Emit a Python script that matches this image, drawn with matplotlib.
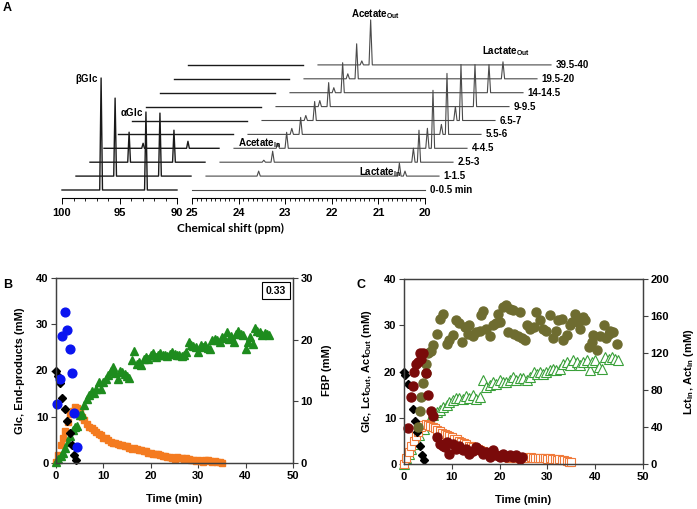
import matplotlib
matplotlib.use("Agg")
import matplotlib.pyplot as plt
import matplotlib.transforms as mtrans
from matplotlib.ticker import MultipleLocator

plt.rcParams['font.family'] = ['Liberation Sans', 'DejaVu Sans']
plt.rcParams['font.weight'] = 'bold'
plt.rcParams['axes.labelweight'] = 'bold'
plt.rcParams['font.size'] = 8
plt.rcParams['mathtext.fontset'] = 'custom'
plt.rcParams['mathtext.rm'] = 'Liberation Sans:bold'
plt.rcParams['mathtext.bf'] = 'Liberation Sans:bold'
plt.rcParams['mathtext.it'] = 'Liberation Sans:bold'

# ---------------- panel A: stacked 13C spectra (peak heights in px) --------
trace_labels = ['0-0.5 min', '1-1.5', '2.5-3', '4-4.5', '5.5-6', '6.5-7',
                '9-9.5', '14-14.5', '19.5-20', '39.5-40']
glc_ppm = [96.6, 92.7]                       # beta, alpha
beta_glc = [112, 78, 30, 5, 0, 0, 0, 0, 0, 0]
alpha_glc = [78, 63, 32, 7, 0, 0, 0, 0, 0, 0]
ace_ppm = [24.06, 23.87]                     # side, main
ace_side = [0, 0, 2, 5, 6, 5, 6, 5, 5, 4]
ace_main = [0, 5, 11, 16, 17, 19, 24, 30, 35, 45]
lac_ppm = [20.85, 20.73]                     # In, Out
lac_in = [0, 13, 14, 20, 10, 14, 0, 0, 0, 0]
lac_out = [0, 5, 32, 58, 61, 56, 42, 28, 17, 0]

# ---------------- panel B ----------------
glc_b_t = [0.0, 0.5, 0.9, 1.3, 1.8, 2.4, 2.9, 3.3, 3.8, 4.3]
glc_b = [20.0, 18.8, 17.2, 14.0, 11.7, 9.0, 6.4, 3.9, 1.8, 0.7]
fbp_t = [0.3, 0.9, 1.3, 1.8, 2.4, 2.9, 3.4, 3.9, 4.4]
fbp = [9.5, 13.7, 20.6, 24.5, 21.5, 18.5, 14.6, 8.1, 2.6]
lac_b_t = [0.0, 0.5, 1.0, 1.5, 2.0, 2.5, 3.0, 3.5, 4.0, 4.5, 5.0, 5.5, 6.0, 6.5,
           7.0, 7.5, 8.0, 8.5, 9.0, 9.5, 10.0, 10.5, 11.0, 11.5, 12.0, 12.5,
           13.0, 13.5, 14.0, 14.5, 15.0, 15.5, 16.0, 16.5, 17.0, 17.5, 18.0,
           18.5, 19.0, 19.5, 20.0, 20.5, 21.0, 21.5, 22.0, 22.5, 23.0, 23.5,
           24.0, 24.5, 25.0, 25.5, 26.0, 26.5, 27.0, 27.5, 28.0, 28.5, 29.0,
           29.5, 30.0, 30.5, 31.0, 31.5, 32.0, 32.5, 33.0, 33.5, 34.0, 34.5, 35.0]
lac_b = [0.2, 1.8, 3.8, 5.5, 7.0, 8.8, 10.5, 11.2, 12.2, 12.0, 11.2, 10.0, 9.3,
         8.5, 7.8, 7.5, 7.2, 6.8, 6.3, 6.0, 5.4, 5.5, 5.0, 4.6, 4.4, 4.3, 4.1,
         4.0, 3.9, 3.7, 3.6, 3.2, 3.1, 3.2, 3.0, 2.9, 2.8, 2.5, 2.6, 2.2, 2.1,
         2.0, 2.0, 1.9, 1.7, 1.6, 1.5, 1.3, 1.2, 1.0, 0.9, 1.2, 1.0, 1.1, 0.8,
         1.0, 0.9, 0.6, 0.7, 0.5, 0.6, 0.4, 0.3, 0.6, 0.7, 0.5, 0.3, 0.4, 0.2,
         0.3, 0.1]
ace_b_t = [0.0, 0.5, 1.0, 1.5, 2.0, 2.5, 3.0, 3.5, 4.0, 4.5, 5.0, 5.5, 6.0, 6.5,
           7.0, 7.5, 8.0, 8.5, 9.0, 9.5, 10.0, 10.5, 11.0, 11.5, 12.0, 12.5,
           13.0, 13.5, 14.0, 14.5, 15.0, 15.5, 16.0, 16.5, 17.0, 17.5, 18.0,
           18.5, 19.0, 19.5, 20.0, 20.5, 21.0, 21.5, 22.0, 22.5, 23.0, 23.5,
           24.0, 24.5, 25.0, 25.5, 26.0, 26.5, 27.0, 27.5, 28.0, 28.5, 29.0,
           29.5, 30.0, 30.5, 31.0, 31.5, 32.0, 32.5, 33.0, 33.5, 34.0, 34.5,
           35.0, 35.5, 36.0, 36.5, 37.0, 37.5, 38.0, 38.5, 39.0, 39.5, 40.0,
           40.5, 41.0, 41.5, 42.0, 42.5, 43.0, 43.5, 44.0, 44.5, 45.0]
ace_b = [0.2, 0.8, 1.5, 2.1, 3.2, 4.6, 5.9, 7.1, 7.8, 8.0, 10.3, 10.6, 12.5,
         13.8, 14.6, 15.5, 15.2, 15.9, 17.5, 16.1, 17.6, 18.2, 19.0, 20.0, 20.8,
         19.5, 18.2, 20.0, 19.7, 19.3, 18.8, 18.4, 22.2, 24.2, 21.5, 21.8, 21.1,
         22.4, 22.9, 22.5, 23.3, 23.8, 23.0, 23.3, 23.8, 23.3, 23.4, 23.1, 23.6,
         24.0, 23.6, 23.4, 23.3, 23.1, 23.3, 24.0, 26.2, 25.5, 25.3, 25.1, 24.0,
         25.6, 25.1, 25.5, 24.8, 24.6, 26.5, 26.9, 26.6, 26.2, 27.3, 27.0, 28.3,
         26.9, 27.5, 26.2, 28.0, 28.5, 27.8, 27.6, 24.7, 26.2, 27.3, 25.8, 29.1,
         28.6, 28.3, 27.6, 28.2, 27.9, 27.6]

# ---------------- panel C ----------------
glc_c_t = [0.0, 0.3, 0.9, 1.4, 1.8, 2.2, 2.8, 3.3, 3.8, 4.2]
glc_c = [19.9, 19.3, 17.4, 14.5, 11.8, 9.2, 6.9, 4.0, 1.9, 0.8]
lct_in_t = [0.8, 1.4, 1.8, 2.1, 2.6, 2.9, 3.3, 3.6, 4.0, 4.7, 5.0, 5.7, 6.1, 6.8,
            7.5, 8.2, 8.6, 8.9, 9.5, 10.2, 10.9, 11.6, 12.3, 13.0, 13.7, 14.4,
            15.1, 15.8, 16.5, 17.2, 17.9, 18.6, 19.3, 20.0, 20.7, 21.4, 22.1,
            22.8, 23.5, 24.2, 24.7]
lct_in = [39, 72, 84, 100, 108, 110, 120, 114, 120, 98, 75, 57, 52, 29, 22, 20,
          18, 24, 11, 22, 16, 20, 15, 16, 11, 14, 18, 15, 11, 13, 8, 15, 10, 8,
          11, 8, 10, 8, 10, 5, 8]
act_in_t = [2.9, 3.3, 3.6, 4.0, 4.5, 4.7, 5.0, 5.7, 6.1, 6.8, 7.5, 8.2, 8.9, 9.5,
            10.2, 10.9, 11.6, 12.1, 12.7, 13.4, 13.7, 14.4, 15.1, 15.8, 16.1,
            16.5, 17.2, 17.9, 18.6, 19.3, 19.7, 20.0, 20.7, 21.4, 21.7, 22.1,
            22.8, 23.1, 23.8, 24.3, 24.6, 25.3, 25.7, 26.4, 27.1, 27.6, 28.4,
            29.1, 29.8, 30.5, 31.2, 31.9, 32.3, 33.0, 33.3, 34.0, 34.7, 35.1,
            35.8, 36.3, 36.8, 37.5, 37.9, 38.6, 39.3, 39.6, 40.3, 41.0, 41.9,
            42.3, 42.8, 43.1, 43.7, 44.5]
act_in = [40, 57, 72, 88, 98, 108, 120, 122, 129, 141, 157, 162, 130, 134, 139,
          156, 152, 132, 148, 141, 150, 138, 143, 144, 161, 165, 146, 138, 150,
          152, 162, 154, 170, 172, 143, 168, 166, 141, 138, 164, 136, 134, 150,
          146, 148, 164, 156, 146, 144, 161, 136, 144, 156, 157, 134, 139, 150,
          154, 162, 154, 146, 159, 156, 126, 132, 139, 123, 138, 150, 136, 141,
          144, 143, 130]
lct_out_t = lac_b_t
lct_out = [0.0, 1.2, 2.6, 4.0, 5.0, 6.1, 7.0, 7.9, 8.4, 8.6, 8.4, 8.3, 8.0, 7.8,
           7.4, 7.1, 6.8, 6.4, 6.2, 6.0, 5.8, 5.5, 5.3, 5.0, 4.8, 4.5, 4.3, 4.0,
           3.8, 3.6, 3.4, 3.2, 3.1, 2.9, 2.6, 2.3, 2.1, 2.0, 1.9, 1.9, 1.8, 1.7,
           1.5, 1.5, 1.4, 1.4, 1.3, 1.3, 1.3, 1.2, 1.3, 1.5, 1.4, 1.5, 1.3, 1.4,
           1.2, 1.3, 1.4, 1.2, 1.1, 1.2, 1.0, 1.1, 0.9, 1.0, 0.9, 0.8, 0.6, 0.5, 0.4]
act_out_t = [0.0, 0.5, 1.0, 1.5, 2.1, 2.6, 3.1, 3.6, 4.2, 4.7, 5.4, 6.1, 6.8, 7.5,
             8.2, 8.9, 9.5, 10.2, 10.9, 11.6, 12.3, 13.0, 13.7, 14.4, 15.1, 15.8,
             16.5, 17.2, 17.9, 18.6, 19.3, 20.0, 20.7, 21.4, 22.1, 22.8, 23.5,
             24.2, 24.9, 25.7, 26.4, 27.1, 27.8, 28.4, 29.1, 29.8, 30.5, 31.2,
             31.9, 32.6, 33.3, 34.0, 34.7, 35.4, 36.1, 36.8, 37.5, 38.2, 38.9,
             39.3, 40.0, 40.7, 41.4, 42.1, 42.8, 43.5, 44.2, 44.8]
act_out = [0.1, 1.2, 2.2, 3.3, 4.4, 5.5, 6.3, 7.6, 7.6, 8.4, 9.8, 10.5, 11.2,
           11.6, 12.3, 12.7, 13.4, 13.8, 14.3, 14.3, 14.1, 14.7, 14.3, 14.9,
           14.1, 14.5, 18.1, 16.7, 17.0, 17.7, 17.4, 18.1, 17.7, 17.7, 18.1,
           18.8, 18.1, 18.5, 18.5, 18.1, 18.8, 19.9, 19.5, 19.9, 19.5, 19.9,
           20.3, 20.6, 20.3, 20.6, 21.7, 22.1, 21.3, 22.4, 22.1, 21.3, 22.1,
           22.4, 20.3, 22.1, 22.4, 21.0, 20.6, 23.1, 22.8, 23.1, 22.8, 22.4]

W, H = 697, 509
fig = plt.figure(figsize=(W / 100, H / 100), dpi=100)


def px_axes(x0, y0, x1, y1):
    return fig.add_axes([x0 / W, 1 - y1 / H, (x1 - x0) / W, (y1 - y0) / H])


def spectrum(lo, hi, pos, hts, hw):
    # baseline with narrow triangular peaks, ppm runs high -> low
    xs, ys = [hi], [0]
    for p, h in sorted(zip(pos, hts), reverse=True):
        if h > 0:
            xs += [p + hw, p, p - hw]
            ys += [0, h, 0]
    xs.append(lo)
    ys.append(0)
    return xs, ys


# ---- panel A ----
ax_glc = px_axes(62, 20, 177, 198)
ax_ali = px_axes(192, 20, 425, 198)
for a in (ax_glc, ax_ali):
    a.set_ylim(-8, 170)
    a.patch.set_visible(False)
    for s in ('top', 'left', 'right'):
        a.spines[s].set_visible(False)
    a.spines['bottom'].set_linewidth(0.8)
    a.yaxis.set_visible(False)
    a.tick_params(axis='x', which='major', length=4, width=0.7, pad=3, labelsize=8)
    a.tick_params(axis='x', which='minor', length=2.5, width=0.6)
ax_glc.set_xlim(100, 90)
ax_glc.set_xticks([100, 95, 90])
ax_glc.xaxis.set_minor_locator(MultipleLocator(1))
ax_ali.set_xlim(25, 20)
ax_ali.set_xticks([25, 24, 23, 22, 21, 20])
ax_ali.xaxis.set_minor_locator(MultipleLocator(0.1))

for i in range(len(trace_labels)):
    shift = mtrans.ScaledTranslation(i * 0.14, i * 0.139, fig.dpi_scale_trans)
    xs, ys = spectrum(90, 100, glc_ppm, [beta_glc[i], alpha_glc[i]], 0.12)
    ax_glc.plot(xs, ys, color='#1a1a1a', lw=1.0, transform=ax_glc.transData + shift,
                clip_on=False)
    xs, ys = spectrum(20, 25, ace_ppm + lac_ppm,
                      [ace_side[i], ace_main[i], lac_in[i], lac_out[i]], 0.035)
    tr = ax_ali.transData + shift
    ax_ali.plot(xs, ys, color='#4a4a4a', lw=0.8, transform=tr, clip_on=False)
    ax_ali.text(19.9, 0, trace_labels[i], transform=tr, ha='left', va='center',
                fontsize=7)

ax_glc.text(96.8, 111, r'$\beta$Glc', ha='right', va='center', fontsize=7)
ax_glc.text(92.95, 78, r'$\alpha$Glc', ha='right', va='center', fontsize=7)
ax_ali.text(24.01, 47, r'Acetate$_{\mathbf{In}}$', ha='left', va='center', fontsize=7)
ax_ali.text(21.59, 176, r'Acetate$_{\mathbf{Out}}$', ha='left', va='center', fontsize=7)
ax_ali.text(21.42, 18, r'Lactate$_{\mathbf{In}}$', ha='left', va='center', fontsize=7)
ax_ali.text(18.78, 139, r'Lactate$_{\mathbf{Out}}$', ha='left', va='center', fontsize=7,
            clip_on=False)
fig.text(230 / W, 1 - 228 / H, 'Chemical shift (ppm)', family='Lato',
         fontsize=8.5, ha='center', va='center')

fig.text(7 / W, 1 - 8 / H, 'A', fontsize=9, ha='center', va='center')
fig.text(8 / W, 1 - 285 / H, 'B', fontsize=9, ha='center', va='center')
fig.text(361 / W, 1 - 285 / H, 'C', fontsize=9, ha='center', va='center')


def style(a):
    for s in a.spines.values():
        s.set_color('#404040')
        s.set_linewidth(0.9)
    a.tick_params(direction='out', length=3.5, width=0.8, color='#404040',
                  labelsize=8, pad=2)


# ---- panel B ----
axB = px_axes(56, 278, 293, 463)
axB2 = axB.twinx()
axB.set_xlim(0, 50)
axB.set_ylim(0, 40)
axB2.set_ylim(0, 30)
axB.set_xticks(range(0, 51, 10))
axB.set_yticks(range(0, 41, 10))
axB2.set_yticks(range(0, 31, 10))
style(axB)
style(axB2)
axB.plot(lac_b_t, lac_b, 's', color='#f47b20', ms=5, clip_on=False)
axB.plot(ace_b_t, ace_b, '^', color='#1e8c1e', ms=6, clip_on=False)
axB.plot(glc_b_t, glc_b, 'D', color='black', ms=4.3, clip_on=False)
axB2.plot(fbp_t, fbp, 'o', color='#0a14f0', ms=6.3, clip_on=False)
axB.set_xlabel('Time (min)', fontsize=8)
axB.set_ylabel('Glc, End-products (mM)', fontsize=8)
axB2.set_ylabel('FBP (mM)', fontsize=8)
axB.xaxis.set_label_coords(0.5, -0.168)
axB.yaxis.set_label_coords(-0.13, 0.5)
axB2.yaxis.set_label_coords(1.122, 0.5)
axB.text(0.928, 0.932, '0.33', transform=axB.transAxes, ha='center', va='center',
         fontsize=7.5, bbox=dict(boxstyle='square,pad=0.35', fc='white', ec='black', lw=0.8))

# ---- panel C ----
axC = px_axes(404, 279, 643, 464)
axC2 = axC.twinx()
axC.set_xlim(0, 50)
axC.set_ylim(0, 40)
axC2.set_ylim(0, 200)
axC.set_xticks(range(0, 51, 10))
axC.set_yticks(range(0, 41, 10))
axC2.set_yticks(range(0, 201, 40))
style(axC)
style(axC2)
axC.plot(act_out_t, act_out, '^', mfc='white', mec='#39a039', mew=0.8, ms=6.5,
         clip_on=False)
axC.plot(lct_out_t, lct_out, 's', mfc='white', mec='#f07a3a', mew=0.8, ms=5.5,
         clip_on=False)
axC.plot(glc_c_t, glc_c, 'D', color='black', ms=4.3, clip_on=False)
axC2.plot(act_in_t, act_in, 'o', color='#6e6c30', ms=6.5, clip_on=False)
axC2.plot(lct_in_t, lct_in, 'o', color='#7a0a0a', ms=6.5, clip_on=False)
axC.set_xlabel('Time (min)', fontsize=8)
axC.set_ylabel(r'Glc, Lct$_{\mathbf{Out}}$, Act$_{\mathbf{Out}}$ (mM)', fontsize=8)
axC2.set_ylabel(r'Lct$_{\mathbf{In}}$, Act$_{\mathbf{In}}$ (mM)', fontsize=8)
axC.xaxis.set_label_coords(0.5, -0.168)
axC.yaxis.set_label_coords(-0.126, 0.5)
axC2.yaxis.set_label_coords(1.163, 0.5)

fig.savefig('out.png', dpi=100)
